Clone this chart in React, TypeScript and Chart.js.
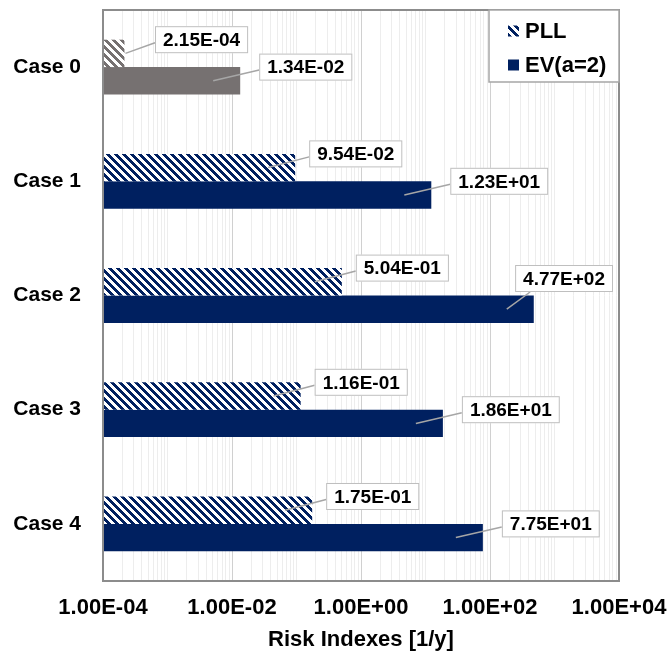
import React, { useEffect, useRef } from 'react';
import { Chart, registerables } from 'chart.js';

Chart.register(...registerables);

const categories = ['Case 0', 'Case 1', 'Case 2', 'Case 3', 'Case 4'];
const seriesNames = ['PLL', 'EV(a=2)'];
const pllValues = [2.15e-4, 9.54e-2, 5.04e-1, 1.16e-1, 1.75e-1];
const evValues = [1.34e-2, 1.23e1, 4.77e2, 1.86e1, 7.75e1];
const xMin = 1e-4;
const xMax = 1e4;
const xTickValues = [1e-4, 1e-2, 1, 1e2, 1e4];
const xTickLabels = ['1.00E-04', '1.00E-02', '1.00E+00', '1.00E+02', '1.00E+04'];
const xTitle = 'Risk Indexes [1/y]';

const NAVY = '#002060';
const GREY = '#767171';
const FONT = "'Liberation Sans', Arial, Helvetica, sans-serif";

function fmtSci(v: number): string {
  const [m, e] = v.toExponential(2).split('e');
  const n = parseInt(e, 10);
  return `${m}E${n < 0 ? '-' : '+'}${String(Math.abs(n)).padStart(2, '0')}`;
}

function makeHatch(color: string): CanvasPattern {
  const c = document.createElement('canvas');
  c.width = 8;
  c.height = 8;
  const g = c.getContext('2d')!;
  g.fillStyle = '#ffffff';
  g.fillRect(0, 0, 8, 8);
  g.fillStyle = color;
  for (let y = 0; y < 8; y++) {
    for (let x = 0; x < 8; x++) {
      if ((x - y + 16) % 8 < 4) g.fillRect(x, y, 1, 1);
    }
  }
  return g.createPattern(c, 'repeat')!;
}

function majorIndex(v: number): number {
  return xTickValues.findIndex((t) => Math.abs(t - v) / t < 1e-6);
}

// log grid positions (1..9 x 10^n) for the minor gridlines
const gridValues: number[] = [];
for (let n = Math.round(Math.log10(xMin)); n < Math.round(Math.log10(xMax)); n++) {
  for (let k = 1; k < 10; k++) gridValues.push(Number((k * Math.pow(10, n)).toPrecision(6)));
}
gridValues.push(xMax);

export default function App() {
  const ref = useRef<HTMLCanvasElement>(null);

  useEffect(() => {
    const canvas = ref.current!;
    const hatchNavy = makeHatch(NAVY);
    const hatchGrey = makeHatch(GREY);

    const decor = {
      id: 'decor',
      afterDatasetsDraw(chart: any) {
        const { ctx, chartArea: a } = chart;
        ctx.save();
        // plot border
        ctx.strokeStyle = '#8c8c8c';
        ctx.lineWidth = 2;
        ctx.strokeRect(a.left, a.top, a.right - a.left, a.bottom - a.top);

        // data labels with leader lines
        ctx.font = `bold 19px ${FONT}`;
        chart.data.datasets.forEach((ds: any, di: number) => {
          const meta = chart.getDatasetMeta(di);
          meta.data.forEach((el: any, j: number) => {
            const p = el.getProps(['x', 'y', 'base', 'height'], true);
            const text = fmtSci(ds.data[j]);
            const tw = ctx.measureText(text).width;
            const w = tw + 16;
            const h = 27;
            const end = p.x;
            const top = p.y - p.height / 2;
            let bx = Math.max(end + (di === 0 ? 14 : 19), a.left + 52);
            let cy = top;
            let clamped = false;
            if (bx + w > a.right - 6) {
              bx = a.right - 6 - w;
              cy = top - 17;
              clamped = true;
            }
            const by = cy - h / 2;
            const sx = end - a.left > 60 ? end - 27 : end + 1;
            const sy = p.y;
            const ex = clamped ? bx + 15 : bx;
            const ey = clamped ? by + h : cy + 3;
            ctx.strokeStyle = '#a6a6a6';
            ctx.lineWidth = 1.5;
            ctx.beginPath();
            ctx.moveTo(sx, sy);
            ctx.lineTo(ex, ey);
            ctx.stroke();
            ctx.fillStyle = '#ffffff';
            ctx.fillRect(bx, by, w, h);
            ctx.strokeStyle = '#bfbfbf';
            ctx.lineWidth = 1;
            ctx.strokeRect(bx + 0.5, by + 0.5, w - 1, h - 1);
            ctx.fillStyle = '#000000';
            ctx.textAlign = 'center';
            ctx.textBaseline = 'middle';
            ctx.fillText(text, bx + w / 2, cy + 1);
          });
        });

        // legend
        const lw = 130;
        const lh = 72;
        const lx = a.right - lw;
        const ly = a.top;
        ctx.fillStyle = '#ffffff';
        ctx.fillRect(lx, ly, lw, lh);
        ctx.strokeStyle = '#a6a6a6';
        ctx.lineWidth = 1.5;
        ctx.strokeRect(lx, ly, lw, lh);
        const items = [
          { fill: hatchNavy, label: seriesNames[0], cy: ly + 21 },
          { fill: NAVY, label: seriesNames[1], cy: ly + 55 },
        ];
        ctx.font = `bold 22px ${FONT}`;
        ctx.textAlign = 'left';
        ctx.textBaseline = 'middle';
        items.forEach((it) => {
          ctx.fillStyle = it.fill;
          ctx.fillRect(lx + 19, it.cy - 5.5, 11, 11);
          ctx.fillStyle = '#000000';
          ctx.fillText(it.label, lx + 36, it.cy + 1);
        });
        ctx.restore();
      },
    };

    const chart = new Chart(canvas, {
      type: 'bar',
      data: {
        labels: categories,
        datasets: [
          {
            label: seriesNames[0],
            data: pllValues,
            backgroundColor: pllValues.map((_, i) => (i === 0 ? hatchGrey : hatchNavy)),
            borderWidth: 0,
            categoryPercentage: 0.48,
            barPercentage: 1.0,
          },
          {
            label: seriesNames[1],
            data: evValues,
            backgroundColor: evValues.map((_, i) => (i === 0 ? GREY : NAVY)),
            borderWidth: 0,
            categoryPercentage: 0.48,
            barPercentage: 1.0,
          },
        ],
      },
      options: {
        indexAxis: 'y',
        responsive: false,
        animation: false,
        devicePixelRatio: 1,
        layout: { padding: { top: 10, right: 50, left: 0, bottom: 0 } },
        plugins: {
          legend: { display: false },
          tooltip: { enabled: false },
        },
        scales: {
          x: {
            type: 'logarithmic',
            position: 'bottom',
            min: xMin,
            max: xMax,
            afterBuildTicks: (scale: any) => {
              scale.ticks = gridValues.map((v) => ({ value: v }));
            },
            afterFit: (scale: any) => {
              scale.height = 78;
              scale.paddingLeft = 0;
              scale.paddingRight = 0;
              scale.paddingTop = 0;
              scale.paddingBottom = 0;
            },
            ticks: {
              autoSkip: false,
              maxRotation: 0,
              minRotation: 0,
              padding: 14,
              color: '#000000',
              font: { family: FONT, size: 22, weight: 'bold' },
              callback: (value: any) => {
                const i = majorIndex(Number(value));
                return i >= 0 ? xTickLabels[i] : '';
              },
            },
            grid: {
              drawTicks: false,
              lineWidth: 1,
              color: (c: any) =>
                c.tick && majorIndex(c.tick.value) >= 0 ? '#d0d0d0' : '#ededed',
            },
            border: { display: false },
            title: {
              display: true,
              text: xTitle,
              color: '#000000',
              font: { family: FONT, size: 22, weight: 'bold' },
              padding: { top: 0, bottom: 6 },
            },
          },
          y: {
            type: 'category',
            afterFit: (scale: any) => {
              scale.width = 103;
              scale.paddingLeft = 0;
              scale.paddingRight = 0;
              scale.paddingTop = 0;
              scale.paddingBottom = 0;
            },
            ticks: {
              padding: 22,
              color: '#000000',
              font: { family: FONT, size: 21, weight: 'bold' },
            },
            grid: { display: false, drawTicks: false },
            border: { display: false },
          },
        },
      } as any,
      plugins: [decor],
    });

    return () => chart.destroy();
  }, []);

  return (
    <div style={{ position: 'absolute', left: 0, top: 0, width: 669, height: 659, background: '#ffffff' }}>
      <canvas ref={ref} width={669} height={659} style={{ display: 'block', width: 669, height: 659 }} />
    </div>
  );
}
